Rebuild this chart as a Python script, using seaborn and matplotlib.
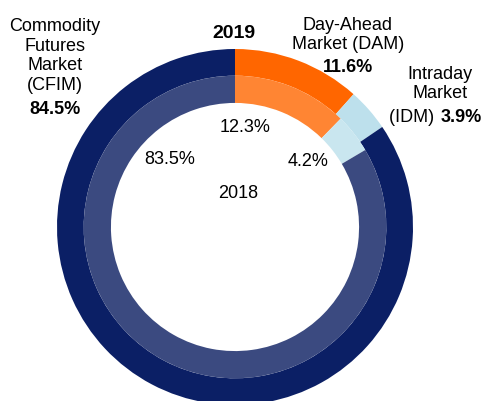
import matplotlib
matplotlib.use("Agg")
import matplotlib.pyplot as plt
import seaborn as sns

# data
segments = ["DAM", "IDM", "CFIM"]
share_2019 = [11.6, 3.9, 84.5]
share_2018 = [12.3, 4.2, 83.5]
outer_colors = ["#FF6600", "#BDE0EC", "#0B1F65"]
inner_colors = ["#FF8533", "#C9E6EF", "#3B4A80"]

sns.set_theme(style="white")
plt.rcParams["font.family"] = ["Liberation Sans", "DejaVu Sans"]
plt.rcParams["text.color"] = "black"

fig = plt.figure(figsize=(4.88, 4.01), dpi=100)
ax = fig.add_axes([0, 0, 1, 1])

CX, CY, R = 235, 227, 178


def px(x, y):
    # pixel position in the image -> data coords
    return (x - CX) / R, (CY - y) / R


ax.pie(share_2019, radius=1.0, colors=outer_colors, startangle=90, counterclock=False,
       wedgeprops=dict(width=0.15, linewidth=0))
ax.pie(share_2018, radius=0.85, colors=inner_colors, startangle=90, counterclock=False,
       wedgeprops=dict(width=0.153, linewidth=0))

ax.set_xlim(-CX / R, (488 - CX) / R)
ax.set_ylim(-(401 - CY) / R, CY / R)
ax.set_aspect("auto")
ax.axis("off")

fs = 13
ax.text(*px(234, 34), "2019", ha="center", va="center", fontsize=14, fontweight="bold")

ax.text(*px(55, 56), "Commodity\nFutures\nMarket\n(CFIM)", ha="center", va="center",
        fontsize=fs, linespacing=1.2)
ax.text(*px(55, 110), f"{share_2019[2]}%", ha="center", va="center", fontsize=fs, fontweight="bold")

ax.text(*px(348, 35), "Day-Ahead\nMarket (DAM)", ha="center", va="center", fontsize=fs, linespacing=1.2)
ax.text(*px(348, 68), f"{share_2019[0]}%", ha="center", va="center", fontsize=fs, fontweight="bold")

ax.text(*px(440, 84), "Intraday\nMarket", ha="center", va="center", fontsize=fs, linespacing=1.2)
ax.text(*px(439, 117), "(IDM) ", ha="right", va="center", fontsize=fs)
ax.text(*px(441, 117), f"{share_2019[1]}%", ha="left", va="center", fontsize=fs, fontweight="bold")

ax.text(*px(245, 127), f"{share_2018[0]}%", ha="center", va="center", fontsize=fs)
ax.text(*px(170, 159), f"{share_2018[2]}%", ha="center", va="center", fontsize=fs)
ax.text(*px(308, 161), f"{share_2018[1]}%", ha="center", va="center", fontsize=fs)
ax.text(*px(238, 194), "2018", ha="center", va="center", fontsize=fs)

fig.savefig("out.png", dpi=100, facecolor="white")
